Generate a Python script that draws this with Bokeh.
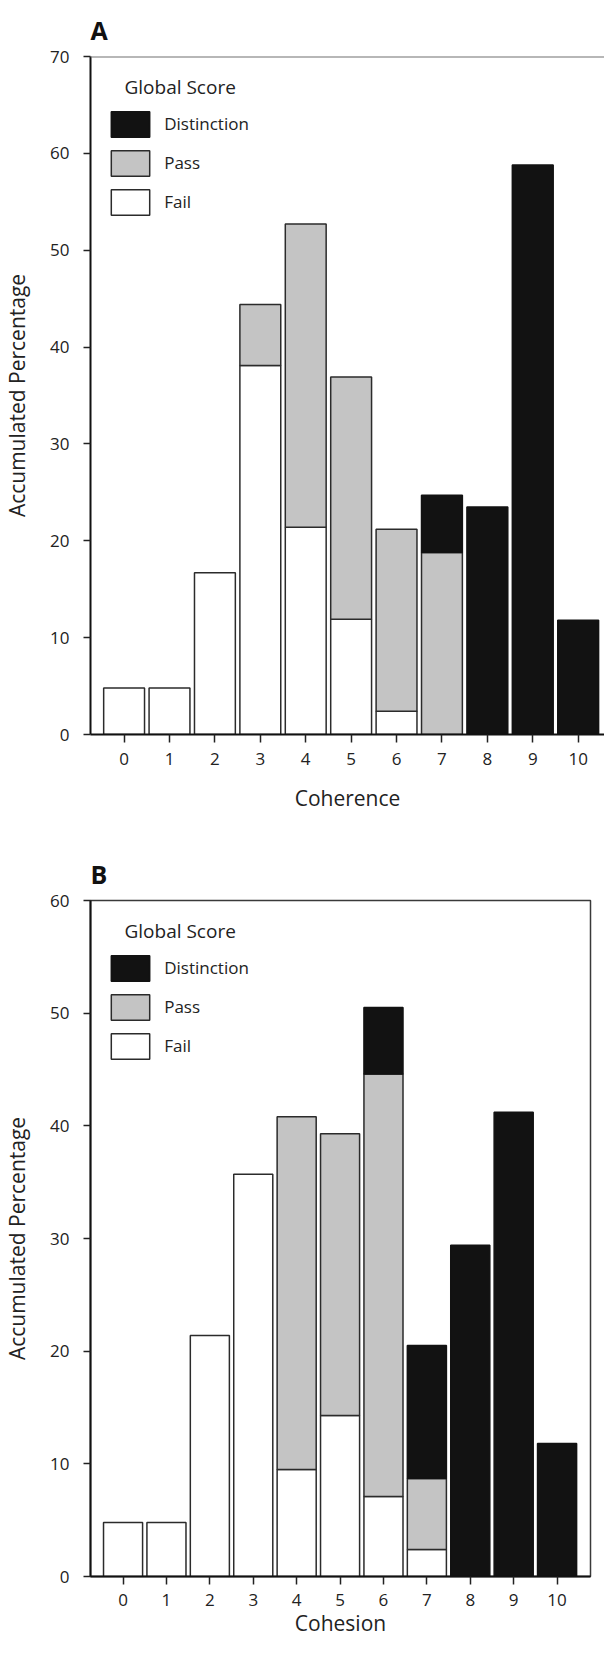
from bokeh.plotting import figure
from bokeh.layouts import column
from bokeh.models import (FixedTicker, Legend, LegendItem, Label, Span, Range1d,
                          ColumnDataSource)
from bokeh.embed import file_html
from bokeh.resources import INLINE

# ---------------- data ----------------
scores = [0, 1, 2, 3, 4, 5, 6, 7, 8, 9, 10]
groups = ["Fail", "Pass", "Distinction"]

# Panel A: Coherence (accumulated percentage per global-score group)
coherence_fail = [4.8, 4.8, 16.7, 38.1, 21.4, 11.9, 2.4, 0, 0, 0, 0]
coherence_pass = [0, 0, 0, 6.3, 31.3, 25.0, 18.8, 18.8, 0, 0, 0]
coherence_dist = [0, 0, 0, 0, 0, 0, 0, 5.9, 23.5, 58.8, 11.8]

# Panel B: Cohesion
cohesion_fail = [4.8, 4.8, 21.4, 35.7, 9.5, 14.3, 7.1, 2.4, 0, 0, 0]
cohesion_pass = [0, 0, 0, 0, 31.3, 25.0, 37.5, 6.3, 0, 0, 0]
cohesion_dist = [0, 0, 0, 0, 0, 0, 5.9, 11.8, 29.4, 41.2, 11.8]

y_ticks_a = [0, 10, 20, 30, 40, 50, 60, 70]
y_ticks_b = [0, 10, 20, 30, 40, 50, 60]

FONT = "Open Sans"
FILLS = {"Fail": "#ffffff", "Pass": "#c4c4c4", "Distinction": "#121212"}
LINES = {"Fail": "#2b2b2b", "Pass": "#2b2b2b", "Distinction": "#121212"}


def make_panel(letter, xlabel, series, y_end, y_ticks, x_start, x_end,
               frame_w, frame_h, b_left, b_right, b_top, b_bottom,
               full_outline, xtick_standoff, xlabel_standoff):
    p = figure(frame_width=frame_w, frame_height=frame_h,
               x_range=Range1d(x_start, x_end), y_range=Range1d(0, y_end),
               output_backend="svg", toolbar_location=None,
               min_border_left=b_left, min_border_right=b_right,
               min_border_top=b_top, min_border_bottom=b_bottom)
    p.background_fill_color = "white"
    p.border_fill_color = "white"
    p.grid.visible = False

    # title letter
    p.title.text = letter
    p.title.text_font = FONT
    p.title.text_font_size = "25px"
    p.title.text_font_style = "bold"
    p.title.text_color = "#111111"
    p.title.align = "left"
    p.title.standoff = 20

    if full_outline:
        p.outline_line_color = "#3a3a3a"
        p.outline_line_width = 1.5
    else:
        p.outline_line_color = None
        p.add_layout(Span(location=y_end, dimension="width",
                          line_color="#707070", line_width=2))

    # stacked bars, each segment drawn from the arrays
    renderers = {}
    base = [0.0] * len(scores)
    for name, vals in series:
        xs, bottoms, tops = [], [], []
        for s, b, v in zip(scores, base, vals):
            if v > 0:
                xs.append(s)
                bottoms.append(b)
                tops.append(b + v)
        src = ColumnDataSource(dict(x=xs, bottom=bottoms, top=tops))
        r = p.vbar(x="x", bottom="bottom", top="top", width=0.9, source=src,
                   fill_color=FILLS[name], line_color=LINES[name], line_width=1.5)
        renderers[name] = r
        base = [b + v for b, v in zip(base, vals)]

    # axes
    p.xaxis.ticker = FixedTicker(ticks=scores)
    p.yaxis.ticker = FixedTicker(ticks=y_ticks)
    for ax in (p.xaxis[0], p.yaxis[0]):
        ax.axis_line_color = "#111111"
        ax.axis_line_width = 2
        ax.major_tick_line_color = "#222222"
        ax.major_tick_line_width = 1.5
        ax.major_tick_in = 0
        ax.minor_tick_line_color = None
        ax.major_label_text_font = FONT
        ax.major_label_text_font_size = "17px"
        ax.major_label_text_color = "#222222"
        ax.axis_label_text_font = FONT
        ax.axis_label_text_font_size = "21px"
        ax.axis_label_text_font_style = "normal"
        ax.axis_label_text_color = "#222222"
    p.xaxis.major_tick_out = 8
    p.yaxis.major_tick_out = 7
    p.xaxis.major_label_standoff = xtick_standoff
    p.yaxis.major_label_standoff = 14
    p.xaxis.axis_label = xlabel
    p.yaxis.axis_label = "Accumulated Percentage"
    p.xaxis.axis_label_standoff = xlabel_standoff
    p.yaxis.axis_label_standoff = 16

    # legend
    p.add_layout(Label(x=34, y=frame_h - 30.5, x_units="screen", y_units="screen",
                       text="Global Score", text_font=FONT, text_font_size="19px",
                       text_color="#222222", text_baseline="middle"))
    legend = Legend(items=[LegendItem(label="Distinction", renderers=[renderers["Distinction"]]),
                           LegendItem(label="Pass", renderers=[renderers["Pass"]]),
                           LegendItem(label="Fail", renderers=[renderers["Fail"]])],
                    location=(16.2, frame_h - 161.5), orientation="vertical",
                    glyph_width=48, glyph_height=32, spacing=7, padding=0, margin=0,
                    label_standoff=10, label_text_font=FONT, label_text_font_size="17px",
                    label_text_color="#222222", border_line_color=None,
                    background_fill_alpha=0)
    p.add_layout(legend)
    return p


pA = make_panel("A", "Coherence",
                [("Fail", coherence_fail), ("Pass", coherence_pass), ("Distinction", coherence_dist)],
                70, y_ticks_a, -0.74, 10.58, 514, 678, 86, 0, 54, 90, False, 10, 16)
pB = make_panel("B", "Cohesion",
                [("Fail", cohesion_fail), ("Pass", cohesion_pass), ("Distinction", cohesion_dist)],
                60, y_ticks_b, -0.75, 10.77, 500, 676, 86, 14, 76, 69, True, 9, 0)

layout = column(pA, pB, spacing=0)
open("out.html", "w").write(file_html(layout, INLINE))
